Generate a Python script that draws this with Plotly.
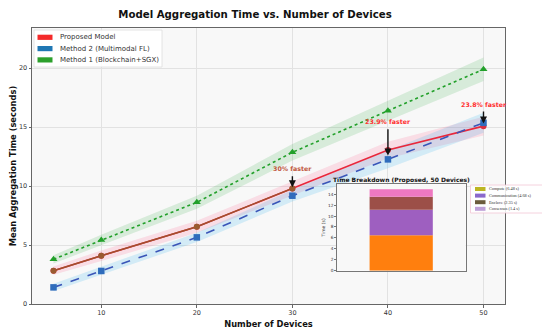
import plotly.graph_objects as go

# ---------------- data ----------------
devices = [5, 10, 20, 30, 40, 50]
proposed = [2.82, 4.09, 6.55, 9.8, 13.05, 15.08]
method2 = [1.41, 2.8, 5.65, 9.18, 12.26, 15.36]
method1 = [3.79, 5.42, 8.62, 12.86, 16.38, 19.9]
proposed_spread = [0.35, 0.45, 0.5, 0.6, 0.7, 0.8]
method2_spread = [0.3, 0.35, 0.4, 0.5, 0.75, 0.85]
method1_spread = [0.35, 0.45, 0.55, 0.7, 0.85, 1.0]

ann_x = [30, 40, 50]
ann_text = ["30% faster", "23.9% faster", "23.8% faster"]
ann_text_y = [11.45, 15.45, 16.95]
ann_tail_y = [10.95, 14.95, 16.45]
ann_tip_y = [9.9, 12.6, 15.3]

breakdown_labels = ["Compute", "Communication", "Enclave", "Consensus"]
breakdown_values = [6.48, 4.68, 2.35, 1.4]
breakdown_colors = ["#ff7f0e", "#9e5fc0", "#9c4f48", "#ee78c0"]
breakdown_legend_colors = ["#bdb522", "#8a68cc", "#6b5b3c", "#bfa0d8"]

legend_labels = ["Proposed Model", "Method 2 (Multimodal FL)", "Method 1 (Blockchain+SGX)"]
legend_colors = ["#f42a2a", "#1f77b4", "#2ca02c"]

# ---------------- layout helpers ----------------
# the page body adds an 8px offset; work in screen pixels and subtract it
OFF = 8
W, H = 550 - OFF, 331 - OFF
L, R, T, B = 32, 505, 28, 304          # screen pixels of the plot area


def px(xp):
    return (xp - L) / (R - L)


def py(yp):
    return (B - yp) / (B - T)


fig = go.Figure()


def band(x, y, s, color):
    up = [a + b for a, b in zip(y, s)]
    lo = [a - b for a, b in zip(y, s)]
    fig.add_trace(go.Scatter(x=x + x[::-1], y=up + lo[::-1], fill="toself",
                             fillcolor=color, line=dict(width=0), mode="lines",
                             hoverinfo="skip", showlegend=False))


band(devices, method1, method1_spread, "rgba(44,170,60,0.16)")
band(devices, proposed, proposed_spread, "rgba(255,60,110,0.14)")
band(devices, method2, method2_spread, "rgba(30,170,240,0.17)")

# Method 1
fig.add_trace(go.Scatter(x=devices, y=method1, mode="lines+markers",
                         line=dict(color="#22a02a", width=1.6, dash="dot"),
                         marker=dict(symbol="triangle-up", size=7, color="#22a02a"),
                         showlegend=False))
# Proposed (red)
fig.add_trace(go.Scatter(x=devices, y=proposed, mode="lines+markers",
                         line=dict(color="#e8283c", width=1.6),
                         marker=dict(symbol="circle", size=6, color="#d83040"),
                         showlegend=False))
# Proposed (brown overlay at lower devices)
fig.add_trace(go.Scatter(x=devices[:4], y=proposed[:4], mode="lines+markers",
                         line=dict(color="#a0502e", width=1.4),
                         marker=dict(symbol="circle", size=6, color="#9a5a30"),
                         showlegend=False))
# Method 2
fig.add_trace(go.Scatter(x=devices, y=method2, mode="lines+markers",
                         line=dict(color="#3a55b8", width=1.6, dash="dash"),
                         marker=dict(symbol="square", size=6.5, color="#2f6cbc"),
                         showlegend=False))

annotations = []
ann_colors = ["#c0573e", "#ff3030", "#ff3030"]
for xa, t, ty, tail, tip, c in zip(ann_x, ann_text, ann_text_y, ann_tail_y, ann_tip_y, ann_colors):
    annotations.append(dict(x=xa, y=tip, ax=xa, ay=tail, xref="x", yref="y",
                            axref="x", ayref="y", showarrow=True, arrowhead=2,
                            arrowsize=1, arrowwidth=1.4, arrowcolor="#111", text=""))
    annotations.append(dict(x=xa, y=ty, xref="x", yref="y", text="<b>%s</b>" % t,
                            showarrow=False, font=dict(size=6.3, color=c,
                                                       family="DejaVu Sans")))

# Inset bar chart
base = 0
for lab, v, c in zip(breakdown_labels, breakdown_values, breakdown_colors):
    fig.add_trace(go.Bar(x=[0], y=[v], base=[base], marker=dict(color=c, line=dict(width=0)),
                         width=0.49, xaxis="x2", yaxis="y2", showlegend=False))
    base += v

shapes = []
# main legend
shapes.append(dict(type="rect", xref="paper", yref="paper", x0=px(34), x1=px(162),
                   y0=py(67), y1=py(30), fillcolor="rgba(255,255,255,0.9)",
                   line=dict(color="#dddddd", width=0.8), layer="above"))
for i, (lab, c) in enumerate(zip(legend_labels, legend_colors)):
    yc = 37.3 + i * 11.3
    shapes.append(dict(type="rect", xref="paper", yref="paper", x0=px(37.5), x1=px(52.5),
                       y0=py(yc + 2.6), y1=py(yc - 2.6), fillcolor=c, line=dict(width=0),
                       layer="above"))
    annotations.append(dict(x=px(58), y=py(yc), xref="paper", yref="paper", text=lab,
                            showarrow=False, xanchor="left", yanchor="middle",
                            font=dict(size=7, color="#333", family="DejaVu Sans")))

# inset legend
shapes.append(dict(type="rect", xref="paper", yref="paper", x0=px(470.5), x1=px(543),
                   y0=py(213), y1=py(185), fillcolor="rgba(255,255,255,0.85)",
                   line=dict(color="#f3c6d6", width=0.8), layer="above"))
for i, (lab, v, c) in enumerate(zip(breakdown_labels, breakdown_values, breakdown_legend_colors)):
    yc = 189 + i * 6.6
    shapes.append(dict(type="rect", xref="paper", yref="paper", x0=px(475), x1=px(485.5),
                       y0=py(yc + 2), y1=py(yc - 2), fillcolor=c, line=dict(width=0),
                       layer="above"))
    annotations.append(dict(x=px(487), y=py(yc), xref="paper", yref="paper",
                            text="%s (%s s)" % (lab, v), showarrow=False,
                            xanchor="left", yanchor="middle",
                            font=dict(size=4.3, color="#333", family="Liberation Serif")))

# inset title
annotations.append(dict(x=px(401.5), y=py(179.5), xref="paper", yref="paper",
                        text="<b>Time Breakdown (Proposed, 50 Devices)</b>", showarrow=False,
                        xanchor="center", yanchor="middle",
                        font=dict(size=6, color="#111", family="DejaVu Sans")))

fig.update_layout(
    width=W, height=H,
    margin=dict(l=L - OFF, r=550 - R, t=T - OFF, b=331 - B, autoexpand=False),
    paper_bgcolor="white", plot_bgcolor="#f8f8f8",
    barmode="overlay",
    title=dict(text="<b>Model Aggregation Time vs. Number of Devices</b>",
               x=(255 - OFF) / W, xref="container", xanchor="center",
               y=1 - (14 - OFF) / H, yref="container", yanchor="middle",
               font=dict(size=10.2, color="#111", family="DejaVu Sans")),
    xaxis=dict(range=[2.75, 52.25], tickvals=[10, 20, 30, 40, 50], automargin=False,
               showgrid=True, gridcolor="#e2e2e2", gridwidth=0.8, zeroline=False,
               showline=True, linecolor="#666", linewidth=1, mirror=True,
               ticks="outside", ticklen=2.5, tickcolor="#666",
               tickfont=dict(size=6.5, color="#333", family="DejaVu Sans"),
               title=dict(text="<b>Number of Devices</b>", standoff=4,
                          font=dict(size=8.3, color="#111", family="DejaVu Sans"))),
    yaxis=dict(range=[0, 23.4], tickvals=[0, 5, 10, 15, 20], automargin=False,
               showgrid=True, gridcolor="#e2e2e2", gridwidth=0.8, zeroline=False,
               showline=True, linecolor="#666", linewidth=1, mirror=True,
               ticks="outside", ticklen=2.5, tickcolor="#666",
               tickfont=dict(size=6.5, color="#333", family="DejaVu Sans"),
               title=dict(text="<b>Mean Aggregation Time (seconds)</b>", standoff=4,
                          font=dict(size=8.3, color="#111", family="DejaVu Sans"))),
    xaxis2=dict(domain=[px(336.7), px(465.7)], anchor="y2", range=[-0.5, 0.5],
                automargin=False,
                showticklabels=False, showgrid=False, zeroline=False,
                showline=True, linecolor="#777", linewidth=0.8, mirror=True, ticks=""),
    yaxis2=dict(domain=[py(270.7), py(184.3)], anchor="x2", range=[0, 15.8],
                automargin=False,
                tickvals=[0, 2, 4, 6, 8, 10, 12, 14], showgrid=False, zeroline=False,
                showline=True, linecolor="#777", linewidth=0.8, mirror=True,
                ticks="outside", ticklen=1.5, tickcolor="#777",
                tickfont=dict(size=4.3, color="#333", family="DejaVu Sans"),
                title=dict(text="Time (s)", standoff=2,
                           font=dict(size=4.5, color="#333", family="DejaVu Sans"))),
    shapes=shapes,
    annotations=annotations,
)
# white inset background
fig.add_shape(type="rect", xref="x2 domain", yref="y2 domain", x0=0, x1=1, y0=0, y1=1,
              fillcolor="white", line=dict(width=0), layer="below")

fig.write_html("out.html")
